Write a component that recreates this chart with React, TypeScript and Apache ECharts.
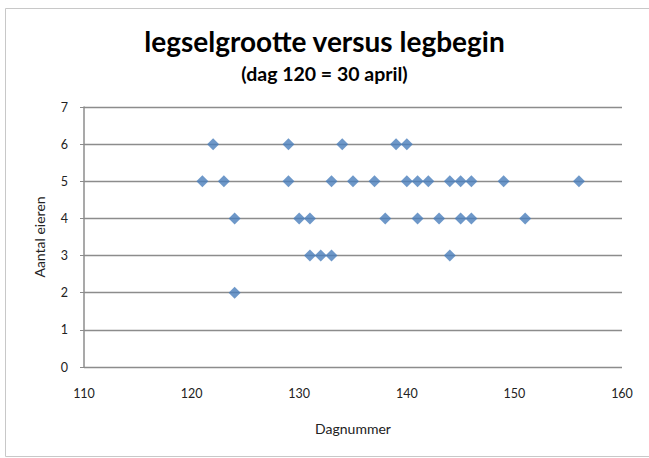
import React, { useEffect, useRef } from "react";
import * as echarts from "echarts";

const dagnummer = [121, 122, 123, 124, 124, 129, 129, 130, 131, 131, 132, 133, 133, 134, 135, 137, 138, 139, 140, 140, 141, 141, 142, 143, 144, 144, 145, 145, 146, 146, 149, 151, 156];
const aantalEieren = [5, 6, 5, 4, 2, 6, 5, 4, 4, 3, 3, 3, 5, 6, 5, 5, 4, 6, 6, 5, 5, 4, 5, 4, 5, 3, 5, 4, 5, 4, 5, 4, 5];

const titleText = "legselgrootte versus legbegin";
const subtitleText = "(dag 120 = 30 april)";
const xName = "Dagnummer";
const yName = "Aantal eieren";

export default function App() {
  const ref = useRef<HTMLDivElement>(null);
  useEffect(() => {
    if (!ref.current) return;
    const chart = echarts.init(ref.current, undefined, { renderer: "svg" });
    const font = "Lato, 'Open Sans', sans-serif";
    chart.setOption({
      animation: false,
      backgroundColor: "#ffffff",
      textStyle: { fontFamily: font },
      title: [
        {
          text: titleText,
          left: "center",
          top: 22,
          textStyle: { fontFamily: font, fontWeight: "bold", fontSize: 28, color: "#000" },
        },
        {
          text: subtitleText,
          left: "center",
          top: 58,
          textStyle: { fontFamily: font, fontWeight: "bold", fontSize: 19.5, color: "#000" },
        },
      ],
      graphic: [
        {
          type: "rect",
          shape: { x: 5.5, y: 8.5, width: 660, height: 448 },
          style: { fill: "none", stroke: "#c8c8c8", lineWidth: 1 },
          silent: true,
        },
      ],
      grid: { left: 84, right: 27, top: 107, bottom: 91, containLabel: false },
      xAxis: {
        type: "value",
        min: 110,
        max: 160,
        interval: 10,
        name: xName,
        nameLocation: "middle",
        nameGap: 54,
        nameTextStyle: { fontSize: 14, color: "#222" },
        axisLine: { show: false },
        axisTick: { show: false },
        splitLine: { show: false },
        axisLabel: { fontSize: 12.5, color: "#222", margin: 20 },
      },
      yAxis: {
        type: "value",
        min: 0,
        max: 7,
        interval: 1,
        name: yName,
        nameLocation: "middle",
        nameGap: 38,
        nameTextStyle: { fontSize: 14, color: "#222" },
        axisLine: { show: true, lineStyle: { color: "#8c8c8c", width: 1.5 } },
        axisTick: { show: true, inside: false, length: 4, lineStyle: { color: "#8c8c8c" } },
        splitLine: { show: true, lineStyle: { color: "#8c8c8c", width: 1.3 } },
        axisLabel: { fontSize: 12.5, color: "#222", margin: 16 },
      },
      series: [
        {
          type: "scatter",
          symbol: "diamond",
          symbolSize: [12, 12],
          itemStyle: { color: "#4a7ebb" },
          data: dagnummer.map((d, i) => [d, aantalEieren[i]]),
        },
      ],
    });
    return () => chart.dispose();
  }, []);
  return (
    <div
      ref={ref}
      style={{ position: "fixed", left: 0, top: 0, width: 649, height: 458 }}
    />
  );
}
